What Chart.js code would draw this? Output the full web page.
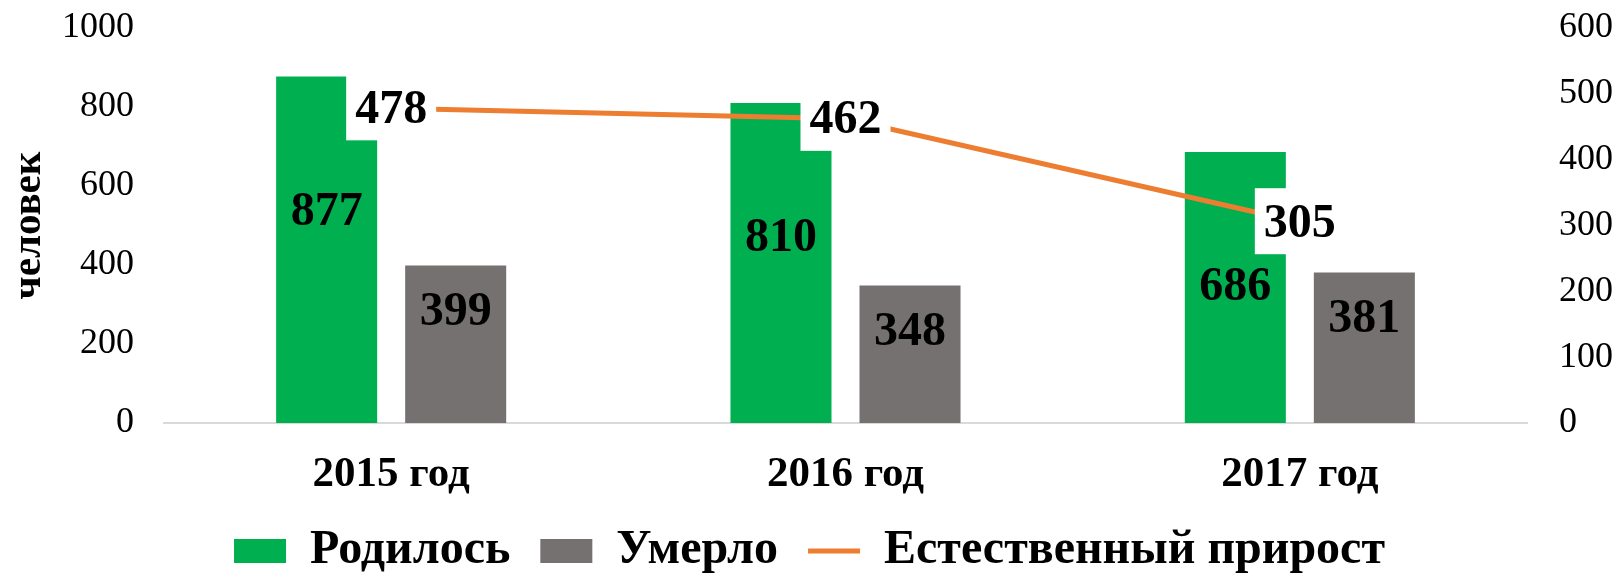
<!DOCTYPE html>
<html>
<head>
<meta charset="utf-8">
<script src="https://cdn.jsdelivr.net/npm/chart.js@4.4.0/dist/chart.umd.min.js"></script>
<style>
  html, body { margin: 0; padding: 0; background: #fff; }
  #wrap { width: 1619px; height: 577px; }
</style>
</head>
<body>
<div id="wrap"><canvas id="chart"></canvas></div>
<script>
const years = ['2015 год', '2016 год', '2017 год'];
const born = [877, 810, 686];
const died = [399, 348, 381];
const growth = [478, 462, 305];

const SERIF = '"Liberation Serif", "Times New Roman", serif';
const GREEN = '#00B050';
const GRAY = '#767171';
const ORANGE = '#ED7D31';

// подписи значений рисуем сами (плагина datalabels нет)
const valueLabels = {
  id: 'valueLabels',
  afterDatasetsDraw(chart) {
    const ctx = chart.ctx;
    const barDrop = [136, 47]; // насколько ниже верха столбца стоит подпись
    ctx.save();
    ctx.font = 'bold 48px ' + SERIF;
    ctx.textAlign = 'center';
    ctx.textBaseline = 'middle';
    chart.data.datasets.forEach((ds, i) => {
      const meta = chart.getDatasetMeta(i);
      meta.data.forEach((el, j) => {
        const text = String(ds.data[j]);
        if (ds.type === 'line') {
          // белая плашка под подписью линии
          const w = ctx.measureText(text).width + 18;
          ctx.fillStyle = '#fff';
          ctx.fillRect(el.x - w / 2, el.y - 34, w, 66);
          ctx.fillStyle = '#000';
          ctx.fillText(text, el.x, el.y + 2);
        } else {
          ctx.fillStyle = '#000';
          ctx.fillText(text, el.x, el.y + barDrop[i]);
        }
      });
    });
    ctx.restore();
  }
};

// фиксированная ширина оси без запаса сверху/снизу под подписи
function fixAxis(width) {
  return function(scale) {
    scale.width = width;
    scale.paddingTop = 0;
    scale.paddingBottom = 0;
  };
}

const ctx = document.getElementById('chart').getContext('2d');
new Chart(ctx, {
  data: {
    labels: years,
    datasets: [
      { type: 'bar', label: 'Родилось', data: born, backgroundColor: GREEN, yAxisID: 'y', order: 1, pointStyle: 'rect',
        categoryPercentage: 0.568, barPercentage: 0.783 },
      { type: 'bar', label: 'Умерло', data: died, backgroundColor: GRAY, yAxisID: 'y', order: 1, pointStyle: 'rect',
        categoryPercentage: 0.568, barPercentage: 0.783 },
      { type: 'line', label: 'Естественный прирост', data: growth, borderColor: ORANGE, backgroundColor: ORANGE,
        borderWidth: 5, pointRadius: 0, pointStyle: 'line', tension: 0, yAxisID: 'y1', order: 0 }
    ]
  },
  options: {
    responsive: true,
    maintainAspectRatio: false,
    animation: false,
    layout: { padding: { top: 28, bottom: -8 } },
    scales: {
      x: {
        grid: { display: false },
        border: { display: true, color: '#D9D9D9', width: 2 },
        ticks: { color: '#000', padding: 18, font: { family: SERIF, size: 43, weight: 'bold' } },
        afterFit(scale) { scale.height = 74; }
      },
      y: {
        position: 'left',
        min: 0, max: 1000,
        grid: { display: false },
        border: { display: false },
        ticks: { stepSize: 200, color: '#000', padding: 22, font: { family: SERIF, size: 36 },
                 callback: v => String(v) },
        title: { display: true, text: 'человек', color: '#000', padding: { top: 5, bottom: 0 },
                 font: { family: SERIF, size: 41, weight: 'bold' } },
        afterFit: fixAxis(164)
      },
      y1: {
        position: 'right',
        min: 0, max: 600,
        grid: { display: false },
        border: { display: false },
        ticks: { stepSize: 100, color: '#000', padding: 24, font: { family: SERIF, size: 36 } },
        afterFit: fixAxis(92)
      }
    },
    plugins: {
      legend: {
        position: 'bottom',
        labels: {
          usePointStyle: true,
          pointStyleWidth: 52,
          boxHeight: 24,
          padding: 30,
          color: '#000',
          font: { family: SERIF, size: 48, weight: 'bold' },
          sort: (a, b) => a.datasetIndex - b.datasetIndex
        }
      },
      tooltip: { enabled: false }
    }
  },
  plugins: [valueLabels]
});
</script>
</body>
</html>
